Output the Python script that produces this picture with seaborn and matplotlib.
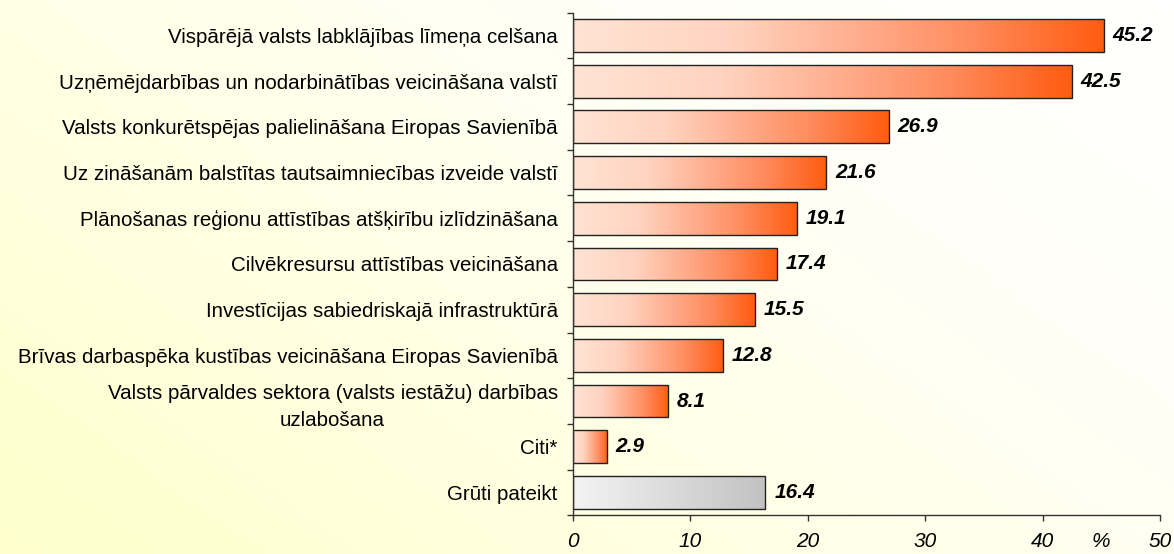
import numpy as np
import pandas as pd
import seaborn as sns
import matplotlib.pyplot as plt
import matplotlib.transforms as mtransforms
from matplotlib.colors import LinearSegmentedColormap

# ------------------------------------------------------
# data
# ------------------------------------------------------
categories = [
    'Vispārējā valsts labklājības līmeņa celšana',
    'Uzņēmējdarbības un nodarbinātības veicināšana valstī',
    'Valsts konkurētspējas palielināšana Eiropas Savienībā',
    'Uz zināšanām balstītas tautsaimniecības izveide valstī',
    'Plānošanas reģionu attīstības atšķirību izlīdzināšana',
    'Cilvēkresursu attīstības veicināšana',
    'Investīcijas sabiedriskajā infrastruktūrā',
    'Brīvas darbaspēka kustības veicināšana Eiropas Savienībā',
    'Valsts pārvaldes sektora (valsts iestāžu) darbības\nuzlabošana',
    'Citi*',
    'Grūti pateikt',
]
values = [45.2, 42.5, 26.9, 21.6, 19.1, 17.4, 15.5, 12.8, 8.1, 2.9, 16.4]
x_ticks = [0, 10, 20, 30, 40, 50]

df = pd.DataFrame({'cat': categories, 'val': values})

sns.set_style("white")
plt.rcParams['font.family'] = ['Liberation Sans', 'DejaVu Sans']
plt.rcParams['text.color'] = 'black'
plt.rcParams['xtick.color'] = 'black'
plt.rcParams['ytick.color'] = 'black'

fig = plt.figure(figsize=(11.74, 5.54), dpi=100)

# background gradient (light yellow bottom-left -> white top-right)
bg = fig.add_axes([0, 0, 1, 1], zorder=-10)
gx, gy = np.meshgrid(np.linspace(0, 1, 200), np.linspace(0, 1, 100))
g = np.clip((gx * 0.6 + gy * 0.4), 0, 1)
bg_cmap = LinearSegmentedColormap.from_list('bg', ['#ffffcc', '#ffffe2', '#fffff6', '#ffffff'])
bg.imshow(g, cmap=bg_cmap, aspect='auto', origin='lower', extent=[0, 1, 0, 1])
bg.axis('off')

ax = fig.add_axes([0.488, 0.070, 0.500, 0.907])
ax.patch.set_alpha(0)

sns.barplot(data=df, x='val', y='cat', orient='h', width=0.72,
            color='#ff6010', edgecolor='#222222', linewidth=1, ax=ax)

orange = LinearSegmentedColormap.from_list(
    'or', [(0, '#ffe3d4'), (0.3, '#ffd3bf'), (0.55, '#ffab8b'),
           (0.75, '#ff8c5e'), (1, '#ff5c10')])
grey = LinearSegmentedColormap.from_list('gr', ['#f4f4f4', '#c2c2c2'])
grad = np.linspace(0, 1, 256).reshape(1, -1)

for i, p in enumerate(ax.patches):
    p.set_facecolor('none')
    x0, y0 = p.get_x(), p.get_y()
    w, h = p.get_width(), p.get_height()
    cm = grey if categories[i] == 'Grūti pateikt' else orange
    im = ax.imshow(grad, cmap=cm, aspect='auto', extent=[x0, x0 + w, y0 + h, y0],
                   zorder=p.get_zorder() - 0.1)
    im.set_clip_path(p)
    ax.text(x0 + w + 0.75, y0 + h / 2, f'{values[i]:.1f}', va='center', ha='left',
            fontsize=15, fontweight='bold', fontstyle='italic', color='black')

ax.set_xlim(0, 50)
ax.set_ylim(len(categories) - 0.5, -0.5)
ax.set_xticks(x_ticks)
ax.set_xticklabels([str(t) for t in x_ticks], fontstyle='italic', fontsize=15)
ax.tick_params(axis='x', length=4, width=1, color='#333333', pad=8, bottom=True)

ax.set_yticks(range(len(categories)))
ax.set_yticklabels(categories, fontsize=14.8, linespacing=1.5)
# nudge the two-line label up a little, as in the original
shift_up = mtransforms.ScaledTranslation(0, 5 / 72, fig.dpi_scale_trans)
for lbl in ax.get_yticklabels():
    lbl.set_horizontalalignment('right')
    lbl.set_multialignment('center')
    if '\n' in lbl.get_text():
        lbl.set_transform(lbl.get_transform() + shift_up)
ax.tick_params(axis='y', length=0, pad=11)
ax.set_yticks(np.arange(-0.5, len(categories), 1), minor=True)
ax.tick_params(axis='y', which='minor', length=4, width=1, color='#333333', left=True)

ax.set_xlabel('')
ax.set_ylabel('')
for s in ['top', 'right']:
    ax.spines[s].set_visible(False)
for s in ['left', 'bottom']:
    ax.spines[s].set_color('#333333')
    ax.spines[s].set_linewidth(1)

ax.text(45, -0.033, '%', transform=ax.get_xaxis_transform(), ha='center', va='top',
        fontsize=15, fontstyle='italic')

fig.savefig('out.png', dpi=100)
